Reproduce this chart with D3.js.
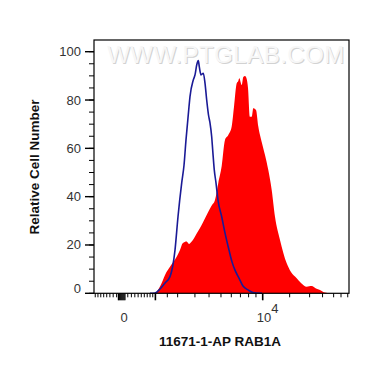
<!DOCTYPE html>
<html><head><meta charset="utf-8">
<script src="https://cdn.jsdelivr.net/npm/d3@7"></script>
<style>body{margin:0;background:#fff;}svg{display:block;font-family:"Liberation Sans",Arial,sans-serif;}</style>
</head><body><svg id="c" width="370" height="367"></svg>
<script>
// Fluorescence intensity (logicle-like axis) vs relative cell number
const controlSeries = [[798,0],[985,0.1],[1184,1.8],[1397,4.3],[1623,6.9],[1865,17.9],[2018,31.7],[2215,45.7],[2342,53],[2455,63.5],[2631,77.2],[2691,81.4],[2896,88.3],[3005,90.4],[3116,94.5],[3222,96.3],[3290,93.8],[3408,90.4],[3571,91.1],[3695,87],[3821,80],[3958,73.8],[4075,70.5],[4209,64.8],[4290,59.3],[4422,51],[4564,45.7],[4736,38.6],[5066,31.7],[5373,25],[5764,17.9],[6072,13],[6390,9.6],[6835,6.3],[7304,3],[7925,1.4],[8587,0.3],[9892,0]];
const antibodySeries = [[798,0],[985,0.1],[1103,1.4],[1255,4.3],[1441,8.4],[1623,11],[1951,15.1],[2123,17.9],[2269,20.7],[2496,21.4],[2631,20.4],[2796,21.4],[3116,24.8],[3339,27],[3571,29.6],[3943,33.8],[4234,36.5],[4480,38.6],[4762,45.7],[5066,52.7],[5373,63.5],[5695,65.5],[6040,69],[6283,77.2],[6577,86.9],[6755,87.9],[6870,89],[7149,86.2],[7340,89.5],[7547,89.9],[7734,89],[7925,85],[8184,73.1],[8411,73.1],[8628,76.6],[9005,75.9],[9337,69],[9846,62.6],[10362,57.2],[10901,51],[11480,42.8],[12066,31.7],[13005,22.1],[14362,12.4],[15296,8.8],[16618,6.2],[17680,4.3],[19186,2.7],[20598,3.0],[21890,2.0],[23158,1.4],[24836,0.3],[26626,0]];
const yTickLabels = [0,20,40,60,80,100];
const yMinorTicks = d3.range(0,101,5);
const xMajorTicks = [1000,10000];
const xZeroBlock = [-150,-125,-100,-75,-50,-25,0,25];
const xMinorTicks = [-900,-800,-700,-600,-500,-400,-300,-200,100,200,300,400,500,600,700,800,900,1500,2000,3000,4000,5000,6000,7000,8000,9000,15000,20000,24000,28000,31000,34000];
const xLabels = [{v:0,base:"0",sup:""},{v:10000,base:"10",sup:"4"}];
const xTitle = "11671-1-AP RAB1A";
const yTitle = "Relative Cell Number";
const watermark = "WWW.PTGLAB.COM";

const svg = d3.select("#c");
const L=94, R=349, T=40, B=293.3;
const x = d3.scaleSymlog().constant(2000).domain([-985,34590]).range([93,349]);
const y = d3.scaleLinear().domain([0,100]).range([B,51.7]);

// watermark
svg.append("text").attr("x",227).attr("y",64).attr("text-anchor","middle").attr("letter-spacing",0.5)
  .attr("font-size",24).attr("fill","#d2d2d2").text(watermark);
svg.append("text").attr("x",226).attr("y",63).attr("text-anchor","middle").attr("letter-spacing",0.5)
  .attr("font-size",24).attr("fill","#f7f7f7").text(watermark);

// red filled histogram
const area = d3.area().x(d=>x(d[0])).y0(y(0)).y1(d=>y(d[1])).curve(d3.curveMonotoneX);
svg.append("path").datum(antibodySeries).attr("d",area).attr("fill","#ff0000");
// control line
const line = d3.line().x(d=>x(d[0])).y(d=>y(d[1])).curve(d3.curveMonotoneX);
svg.append("path").datum(controlSeries).attr("d",line).attr("fill","none")
  .attr("stroke","#1a1a96").attr("stroke-width",1.6);

// frame
svg.append("rect").attr("x",L).attr("y",T).attr("width",R-L).attr("height",B-T)
  .attr("fill","none").attr("stroke","#000").attr("stroke-width",1.2);

// y ticks
const gy = svg.append("g");
gy.selectAll("line.mi").data(yMinorTicks).join("line")
  .attr("x1",89).attr("x2",L).attr("y1",d=>y(d)).attr("y2",d=>y(d)).attr("stroke","#000").attr("stroke-width",1);
gy.selectAll("line.ma").data(yTickLabels).join("line")
  .attr("x1",85).attr("x2",L).attr("y1",d=>y(d)).attr("y2",d=>y(d)).attr("stroke","#000").attr("stroke-width",1.4);
gy.selectAll("text").data(yTickLabels).join("text")
  .attr("x",81).attr("y",d=>y(d)+(d===0?0:4.5)).attr("text-anchor","end").attr("font-size",13).attr("fill","#333").text(d=>d);

// x ticks
const gx = svg.append("g");
gx.selectAll("line.mi").data(xMinorTicks).join("line")
  .attr("x1",d=>x(d)).attr("x2",d=>x(d)).attr("y1",B).attr("y2",B+4).attr("stroke","#000").attr("stroke-width",1);
gx.selectAll("line.zb").data(xZeroBlock).join("line")
  .attr("x1",d=>x(d)).attr("x2",d=>x(d)).attr("y1",B).attr("y2",B+7).attr("stroke","#000").attr("stroke-width",1.2);
gx.selectAll("line.ma").data(xMajorTicks).join("line")
  .attr("x1",d=>x(d)).attr("x2",d=>x(d)).attr("y1",B).attr("y2",B+7).attr("stroke","#000").attr("stroke-width",1.6);
xLabels.forEach(l=>{
  const t = gx.append("text").attr("x",x(l.v)+(l.sup?5:0)).attr("y",322).attr("text-anchor","middle").attr("font-size",13).attr("fill","#333");
  t.append("tspan").text(l.base);
  if(l.sup) t.append("tspan").attr("dy",-9).attr("font-size",13).text(l.sup);
});

// titles
svg.append("text").attr("x",220).attr("y",346).attr("text-anchor","middle").attr("font-size",13.5).attr("font-weight","bold").attr("fill","#111").text(xTitle);
svg.append("text").attr("transform","translate(39,167) rotate(-90)").attr("text-anchor","middle").attr("font-size",13.5).attr("font-weight","bold").attr("fill","#111").text(yTitle);
</script></body></html>
